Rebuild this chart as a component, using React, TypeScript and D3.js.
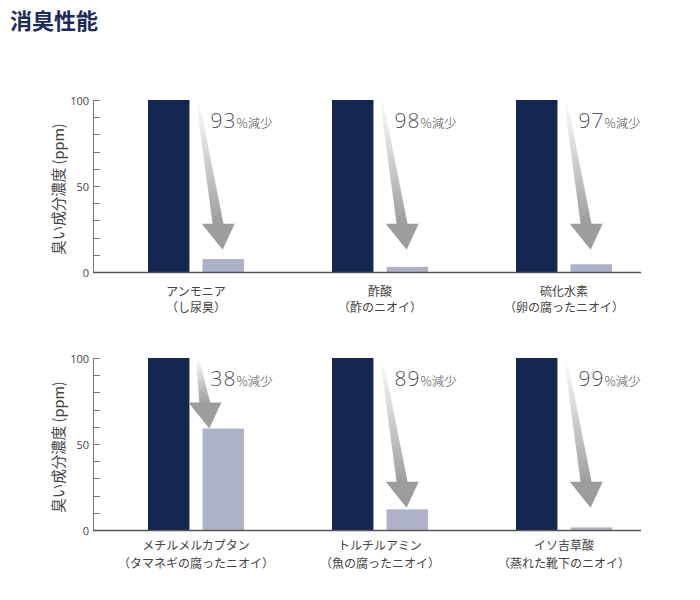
import React from "react";
import * as d3 from "d3";

const title = "消臭性能";
const yAxisTitle = "臭い成分濃度 (ppm)";
const categories = ["アンモニア", "酢酸", "硫化水素", "メチルメルカプタン", "トルチルアミン", "イソ吉草酸"];
const subLabels = ["（し尿臭）", "（酢のニオイ）", "（卵の腐ったニオイ）", "（タマネギの腐ったニオイ）", "（魚の腐ったニオイ）", "（蒸れた靴下のニオイ）"];
const beforeValues = [100, 100, 100, 100, 100, 100];
const afterValues = [7.5, 3, 4.5, 59, 12, 1.5];
const reductions = ["93", "98", "97", "38", "89", "99"];
const yTickLabels = [0, 50, 100];

const panels = [
  { top: 100, bottom: 272, l1: 24, l2: 40 },
  { top: 358, bottom: 530, l1: 20, l2: 38 },
];

const NAVY = "#14264f";
const LIGHT = "#adb2c8";
const FONT = "'Noto Sans CJK JP', 'Noto Sans', sans-serif";

export default function App() {
  const xBand = d3.scaleBand<number>().domain([0, 1, 2]).range([104, 656]);
  const sub = d3.scaleBand<string>().domain(["before", "after"]).range([44, 140]).paddingInner(0.24);
  const slope = 0.168;

  return (
    <svg width={700} height={600} style={{ position: "absolute", left: 0, top: 0, background: "#fff" }} fontFamily={FONT}>
      <defs>
        <linearGradient id="shaftGrad" x1="0" y1="0" x2="0" y2="1">
          <stop offset="0" stopColor="#ffffff" />
          <stop offset="1" stopColor="#9d9d9d" />
        </linearGradient>
      </defs>
      <text x={10} y={29} fontSize={22} fontWeight="bold" fill="#1c2c5a">{title}</text>
      {panels.map((p, pi) => {
        const y = d3.scaleLinear().domain([0, 100]).range([p.bottom, p.top]);
        const idx = [0, 1, 2].map((c) => pi * 3 + c);
        return (
          <g key={pi}>
            <text
              transform={`translate(57,${(p.top + p.bottom) / 2 + 3}) rotate(-90)`}
              textAnchor="middle"
              dominantBaseline="central"
              fontSize={14.5}
              fill="#444"
            >
              {yAxisTitle}
            </text>
            {y.ticks(10).map((t) => (
              <line key={t} x1={93.5} x2={100} y1={Math.round(y(t)) + 0.5} y2={Math.round(y(t)) + 0.5} stroke="#777" strokeWidth={1} />
            ))}
            {yTickLabels.map((t) => (
              <text key={t} x={89} y={y(t)} textAnchor="end" dominantBaseline="central" fontSize={11} fill="#444" fontFamily="'Open Sans', sans-serif">
                {t}
              </text>
            ))}
            <line x1={93.5} x2={93.5} y1={p.top} y2={p.bottom} stroke="#777" strokeWidth={1} />
            {idx.map((i, c) => {
              const bx = xBand(c)!;
              const cx = bx + xBand.bandwidth() / 2;
              const dx0 = bx + sub("before")!;
              const dx1 = bx + sub("after")!;
              const bw = sub.bandwidth();
              const sx = dx0 + bw + 8;
              const sy = y(100);
              const tipY = y(Math.max(afterValues[i], 13));
              const tipX = sx + (tipY - sy) * slope;
              const headLen = 26;
              const baseY = tipY - headLen;
              const baseX = sx + (baseY - sy) * slope;
              const w0 = 3, w1 = 11, hw = 16.5;
              const shaft = `M${sx - w0 / 2},${sy} L${sx + w0 / 2},${sy} L${baseX + w1 / 2},${baseY + 1} L${baseX - w1 / 2},${baseY + 1} Z`;
              const head = `M${baseX - hw},${baseY} L${baseX + hw},${baseY} L${tipX},${tipY} Z`;
              return (
                <g key={i}>
                  <rect x={dx0} y={y(beforeValues[i])} width={bw} height={y(0) - y(beforeValues[i])} fill={NAVY} />
                  <rect x={dx1} y={y(afterValues[i])} width={bw} height={y(0) - y(afterValues[i])} fill={LIGHT} />
                  <path d={shaft} fill="url(#shaftGrad)" />
                  <path d={head} fill="#9d9d9d" />
                  <text x={dx0 + bw + 21} y={sy + 28} fill="#555" fontWeight={300}>
                    <tspan fontSize={21} fontFamily="'Open Sans', 'Lato', sans-serif" letterSpacing={1}>{reductions[i]}</tspan>
                    <tspan fontSize={12.5}>%減少</tspan>
                  </text>
                  <text x={cx} y={p.bottom + p.l1} textAnchor="middle" fontSize={12} fill="#444">{categories[i]}</text>
                  <text x={cx} y={p.bottom + p.l2} textAnchor="middle" fontSize={12} fill="#444">{subLabels[i]}</text>
                </g>
              );
            })}
            <line x1={93} x2={641} y1={p.bottom + 0.5} y2={p.bottom + 0.5} stroke="#555" strokeWidth={1.5} />
          </g>
        );
      })}
    </svg>
  );
}
